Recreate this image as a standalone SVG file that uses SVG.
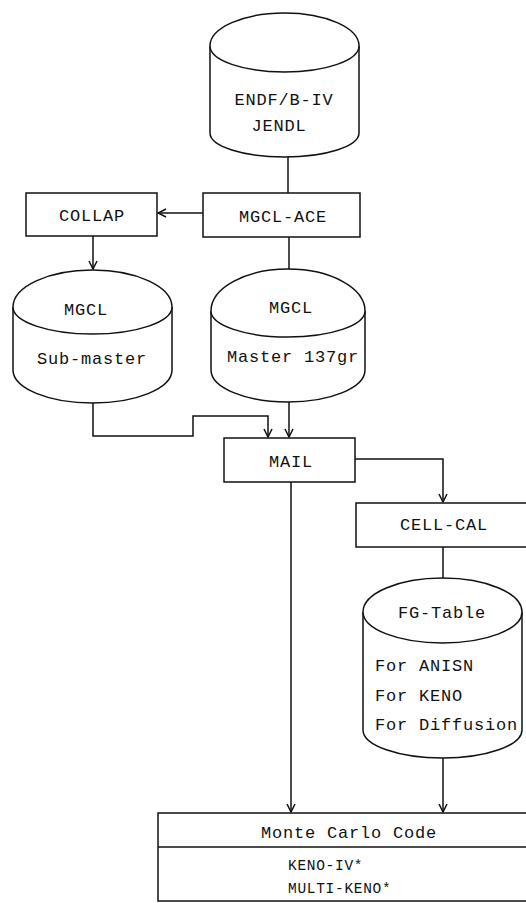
<svg xmlns="http://www.w3.org/2000/svg" width="526" height="903" viewBox="0 0 526 903">
<style>
.s{fill:#fff;stroke:#111;stroke-width:1.5}
.c{fill:none;stroke:#111;stroke-width:1.5}
.t{font-family:"Liberation Mono","DejaVu Sans Mono",monospace;font-size:17px;letter-spacing:0.8px;fill:#111}
.m{text-anchor:middle}
.k{font-size:14.5px;letter-spacing:0.7px}
</style>
<defs>
<marker id="a" markerWidth="10" markerHeight="12" refX="9" refY="5" orient="auto" markerUnits="userSpaceOnUse">
<path d="M1,1 L9,5 L1,9" fill="none" stroke="#111" stroke-width="1.5"/>
</marker>
</defs>
<rect width="526" height="903" fill="#fff"/>
<g id="endf">
<path class="s" d="M210,46 L210,133 A74.5,24 0 0 0 359,133 L359,46"/>
<path class="s" d="M210,46 A74.5,33 0 0 1 359,46 A74.5,26 0 0 1 210,46 Z"/>
<text class="t m" x="284" y="105">ENDF/B-IV</text>
<text class="t m" x="279" y="131">JENDL</text>
</g>
<g id="mgclace">
<rect class="s" x="203" y="193" width="157" height="44"/>
<text class="t m" x="283" y="222">MGCL-ACE</text>
</g>
<g id="collap">
<rect class="s" x="26" y="193" width="131" height="43"/>
<text class="t m" x="92" y="221">COLLAP</text>
</g>
<g id="submaster">
<path class="s" d="M13,307 L13,370 A79.5,33 0 0 0 172,370 L172,307"/>
<path class="s" d="M13,307 A79.5,37 0 0 1 172,307 A79.5,27 0 0 1 13,307 Z"/>
<text class="t m" x="86" y="315">MGCL</text>
<text class="t m" x="92" y="364">Sub-master</text>
</g>
<g id="master">
<path class="s" d="M211,311 L211,370 A77,32 0 0 0 365,370 L365,311"/>
<path class="s" d="M211,311 A77,42 0 0 1 365,311 A77,26 0 0 1 211,311 Z"/>
<text class="t m" x="291" y="313">MGCL</text>
<text class="t m" x="293" y="362">Master 137gr</text>
</g>
<g id="mail">
<rect class="s" x="224" y="438" width="131" height="44"/>
<text class="t m" x="291" y="467">MAIL</text>
</g>
<g id="cellcal">
<rect class="s" x="356" y="503" width="190" height="44"/>
<text class="t m" x="444" y="530">CELL-CAL</text>
</g>
<g id="fgtable">
<path class="s" d="M363,612 L363,730 A79.5,28 0 0 0 522,730 L522,612"/>
<path class="s" d="M363,612 A79.5,34 0 0 1 522,612 A79.5,31 0 0 1 363,612 Z"/>
<text class="t m" x="442" y="618">FG-Table</text>
<text class="t" x="375" y="671">For ANISN</text>
<text class="t" x="375" y="701">For KENO</text>
<text class="t" x="375" y="730">For Diffusion</text>
</g>
<g id="montecarlo">
<rect class="s" x="158" y="813" width="390" height="88"/>
<line class="c" x1="158" y1="847" x2="548" y2="847"/>
<text class="t m" x="349" y="838">Monte Carlo Code</text>
<text class="t k" x="288" y="870">KENO-IV*</text>
<text class="t k" x="288" y="893">MULTI-KENO*</text>
</g>
<g id="connectors">
<line class="c" x1="288" y1="157" x2="288" y2="193"/>
<line class="c" x1="203" y1="213" x2="158" y2="213" marker-end="url(#a)"/>
<line class="c" x1="93" y1="236" x2="93" y2="269" marker-end="url(#a)"/>
<line class="c" x1="289" y1="237" x2="289" y2="269"/>
<path class="c" d="M93,403 L93,436 L193,436 L193,416 L268,416 L268,437" marker-end="url(#a)"/>
<line class="c" x1="289" y1="402" x2="289" y2="437" marker-end="url(#a)"/>
<path class="c" d="M355,459 L443,459 L443,502" marker-end="url(#a)"/>
<line class="c" x1="443" y1="547" x2="443" y2="578"/>
<line class="c" x1="291" y1="482" x2="291" y2="812" marker-end="url(#a)"/>
<line class="c" x1="443" y1="758" x2="443" y2="812" marker-end="url(#a)"/>
</g>
</svg>
